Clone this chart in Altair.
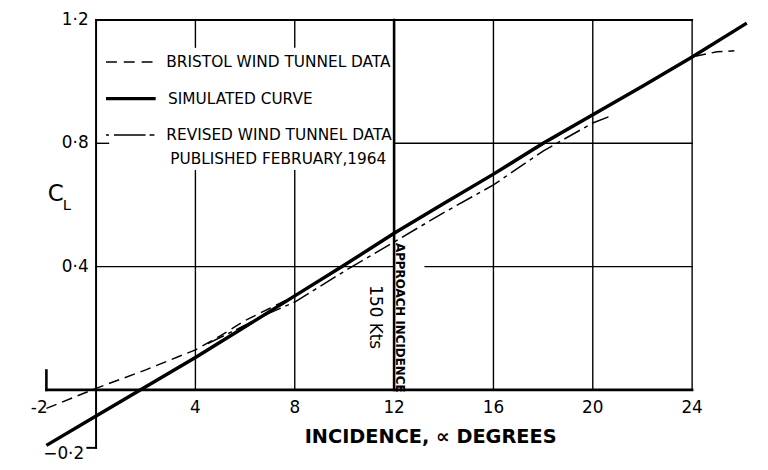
import altair as alt
import pandas as pd

# ---- series ----
sim_x = [-2, 0, 2, 4, 6, 8, 10, 12, 14, 16, 18, 20, 22, 24, 26.2]
sim_y = [-0.18, -0.085, 0.01, 0.105, 0.205, 0.305, 0.405, 0.508, 0.605, 0.70, 0.80, 0.893, 0.985, 1.08, 1.19]
bristol_x = [-2, 0, 2, 4, 5, 6, 7, 8, 10, 12, 16, 20, 24, 25, 25.7]
bristol_y = [-0.06, 0.005, 0.065, 0.13, 0.175, 0.225, 0.265, 0.305, 0.405, 0.508, 0.70, 0.893, 1.08, 1.097, 1.10]
revised_x = [4.5, 6, 7, 8, 10, 12, 14, 16, 18, 20, 20.7]
revised_y = [0.15, 0.21, 0.25, 0.285, 0.385, 0.48, 0.575, 0.665, 0.775, 0.866, 0.888]

x_ticks = [4, 8, 12, 16, 20, 24]
x_tick_labels = ["4", "8", "12", "16", "20", "24"]
y_ticks = [0.4, 0.8, 1.2]
y_tick_labels = ["0·4", "0·8", "1·2"]
legend_labels = ["BRISTOL WIND TUNNEL DATA", "SIMULATED CURVE", "REVISED WIND TUNNEL DATA", "PUBLISHED FEBRUARY,1964"]

FONT = "DejaVu Sans"
xs = alt.Scale(domain=[-3.546, 26.733], nice=False, zero=False)
ys = alt.Scale(domain=[-0.252, 1.2311], nice=False, zero=False)


def X(f):
    return alt.X(f, type="quantitative", scale=xs, axis=None)


def Y(f):
    return alt.Y(f, type="quantitative", scale=ys, axis=None)


def seg_layer(segs, width):
    df = pd.DataFrame(segs, columns=["x", "x2", "y", "y2"])
    return alt.Chart(df).mark_rule(color="black", strokeWidth=width, strokeCap="square").encode(
        x=X("x"), x2="x2:Q", y=Y("y"), y2="y2:Q")


# legend box extent (grid hidden behind it)
box_x0, box_x1, box_y0, box_y1 = 0.5, 12, 0.711, 1.112
thin = []
for t in x_ticks:
    if t < box_x1:
        thin += [(t, t, 0, box_y0), (t, t, box_y1, 1.2)]
    elif t != 12:
        thin.append((t, t, 0, 1.2))
thin += [(0, box_x0, 0.8, 0.8), (box_x1, 24, 0.8, 0.8)]
thin += [(0, 12, 0.4, 0.4), (13.25, 24, 0.4, 0.4)]
medium = [(0, 0, -0.188, 1.2), (-0.35, 0, -0.188, -0.188), (0, 24, 1.2, 1.2)]
thick = [(-2, 24, 0, 0), (12, 12, 0, 1.2), (-2, -2, 0, 0.063)]

grid = seg_layer(thin, 1.4) + seg_layer(medium, 2) + seg_layer(thick, 2.6)

bristol = alt.Chart(pd.DataFrame({"x": bristol_x, "y": bristol_y})).mark_line(
    color="black", strokeWidth=1.5, strokeDash=[11, 6]).encode(x=X("x"), y=Y("y"), order="x:Q")
revised = alt.Chart(pd.DataFrame({"x": revised_x, "y": revised_y})).mark_line(
    color="black", strokeWidth=1.5, strokeDash=[18, 5, 4, 5]).encode(x=X("x"), y=Y("y"), order="x:Q")
sim = alt.Chart(pd.DataFrame({"x": sim_x, "y": sim_y})).mark_line(
    color="black", strokeWidth=3.5).encode(x=X("x"), y=Y("y"), order="x:Q")

# legend samples
rows = [1.064, 0.945, 0.827, 0.750]
leg_b = alt.Chart(pd.DataFrame({"x": [0.4, 2.35], "y": [rows[0]] * 2})).mark_line(
    color="black", strokeWidth=1.5, strokeDash=[11, 7]).encode(x=X("x"), y=Y("y"))
leg_s = alt.Chart(pd.DataFrame({"x": [0.4, 2.4], "y": [rows[1]] * 2})).mark_line(
    color="black", strokeWidth=3.5).encode(x=X("x"), y=Y("y"))
leg_r = alt.Chart(pd.DataFrame({"x": [0.4, 2.35], "y": [rows[2]] * 2})).mark_line(
    color="black", strokeWidth=1.5, strokeDash=[3, 5, 32, 4, 6, 50]).encode(x=X("x"), y=Y("y"))
leg_text = alt.Chart(pd.DataFrame({"x": [2.83, 2.9, 2.83, 2.99], "y": rows, "t": legend_labels})).mark_text(
    font=FONT, fontSize=15.5, fontWeight="normal", align="left", baseline="middle", color="black").encode(
    x=X("x"), y=Y("y"), text="t:N")


def text_layer(df, **kw):
    base = dict(font=FONT, color="black", baseline="middle")
    base.update(kw)
    return alt.Chart(df).mark_text(**base).encode(x=X("x"), y=Y("y"), text="t:N")


xlab = text_layer(pd.DataFrame({"x": x_ticks, "y": [-0.059] * len(x_ticks), "t": x_tick_labels}),
                  fontSize=17, align="center")
xlab_neg = text_layer(pd.DataFrame({"x": [-1.95], "y": [-0.059], "t": ["-2"]}), fontSize=17, align="right")
ylab = text_layer(pd.DataFrame({"x": [-0.3] * 3, "y": y_ticks, "t": y_tick_labels}), fontSize=17, align="right")
ylab_neg = text_layer(pd.DataFrame({"x": [-0.48], "y": [-0.207], "t": ["−0·2"]}), fontSize=17, align="right")
c_main = text_layer(pd.DataFrame({"x": [-1.63], "y": [0.634], "t": ["C"]}), fontSize=23, align="center")
c_sub = text_layer(pd.DataFrame({"x": [-1.18], "y": [0.600], "t": ["L"]}), fontSize=15, align="center")
xtitle = text_layer(pd.DataFrame({"x": [13.47], "y": [-0.153], "t": ["INCIDENCE, ∝ DEGREES"]}),
                    fontSize=19.5, fontWeight="bold", align="center")
appr = text_layer(pd.DataFrame({"x": [12.23], "y": [0.234], "t": ["APPROACH INCIDENCE"]}),
                  fontSize=12, fontWeight="bold", align="center", angle=90)
kts = text_layer(pd.DataFrame({"x": [11.24], "y": [0.236], "t": ["150 Kts"]}),
                 fontSize=17, align="center", angle=90)

chart = alt.layer(
    grid, bristol, revised, sim, leg_b, leg_s, leg_r, leg_text,
    xlab, xlab_neg, ylab, ylab_neg, c_main, c_sub, xtitle, appr, kts
).properties(
    width=760, height=462, padding=0, autosize=alt.AutoSizeParams(type="none"),
    background="white"
).configure_view(stroke=None)

chart.save("out.html", embed_options={"renderer": "svg", "actions": False})
